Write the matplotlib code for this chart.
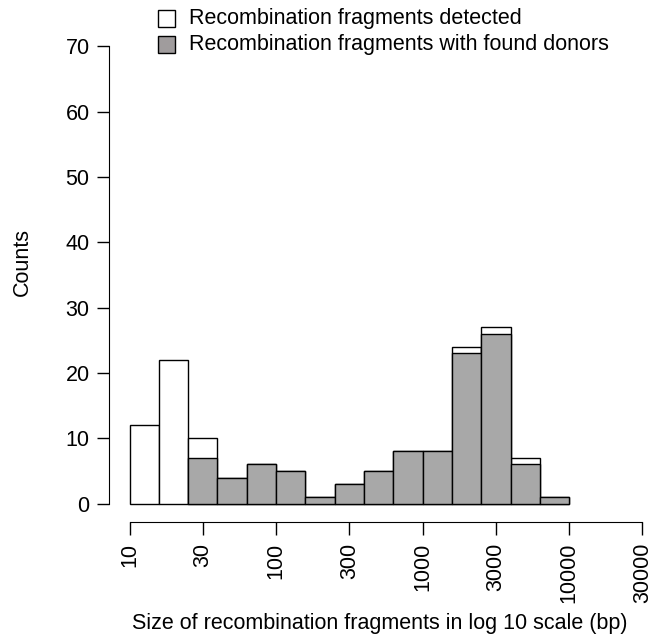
import matplotlib
matplotlib.use("Agg")
import matplotlib.pyplot as plt
import numpy as np

plt.rcParams['font.family'] = ['Liberation Sans', 'DejaVu Sans']

# bins in log10(bp), width 0.2, from 1 to 4
bin_edges = [1.0, 1.2, 1.4, 1.6, 1.8, 2.0, 2.2, 2.4, 2.6, 2.8, 3.0, 3.2, 3.4, 3.6, 3.8, 4.0]
detected = [12, 22, 10, 4, 6, 5, 1, 3, 5, 8, 8, 24, 27, 7, 1]
donors = [0, 0, 7, 4, 6, 5, 1, 3, 5, 8, 8, 23, 26, 6, 1]

tick_pos = [1, 1.5, 2, 2.5, 3, 3.5, 4, 4.5]
tick_lab = ["10", "30", "100", "300", "1000", "3000", "10000", "30000"]

fs = 15.5

fig = plt.figure(figsize=(6.67, 6.41), dpi=100)
ax = fig.add_axes([109/667, 119/641, 554/667, 494/641])

left = np.array(bin_edges[:-1])
width = np.diff(bin_edges)

ax.bar(left, detected, width=width, align="edge", color="white",
       edgecolor="black", linewidth=1)
d = np.array(donors)
ax.bar(left[d > 0], d[d > 0], width=width[d > 0], align="edge", color="#a8a8a8",
       edgecolor="black", linewidth=1)

ax.set_xlim(0.86, 4.64)
ax.set_ylim(-2.8, 72.8)

for s in ["top", "right"]:
    ax.spines[s].set_visible(False)
ax.spines["left"].set_bounds(0, 70)
ax.spines["bottom"].set_bounds(1, 4.5)

ax.set_xticks(tick_pos)
ax.set_xticklabels(tick_lab, rotation=90, fontsize=fs)
ax.set_yticks(range(0, 71, 10))
ax.tick_params(axis="y", labelsize=fs, length=9, width=1, pad=5)
ax.tick_params(axis="x", length=9, width=1, pad=6)

ax.set_ylabel("Counts", fontsize=fs, va="center")
ax.yaxis.set_label_coords(-(109 - 22) / 554, (641 - 262 - 119) / 494)
ax.set_xlabel("Size of recombination fragments in log 10 scale (bp)", fontsize=fs, va="center")
ax.xaxis.set_label_coords((380 - 109) / 554, -(624 - 522) / 494)

# legend at top
lx, ly = 158 / 667, 1 - 27 / 641
sq = 17 / 667
sqh = 17 / 641
fig.patches.append(plt.Rectangle((lx, ly), sq, sqh, transform=fig.transFigure,
                                 facecolor="white", edgecolor="black", linewidth=1))
fig.patches.append(plt.Rectangle((lx, ly - 26 / 641), sq, sqh, transform=fig.transFigure,
                                 facecolor="#a09c9d", edgecolor="black", linewidth=1))
fig.text(189 / 667, ly + sqh / 2, "Recombination fragments detected", fontsize=fs, va="center")
fig.text(189 / 667, ly - 26 / 641 + sqh / 2, "Recombination fragments with found donors",
         fontsize=fs, va="center")

fig.savefig("out.png", dpi=100)
